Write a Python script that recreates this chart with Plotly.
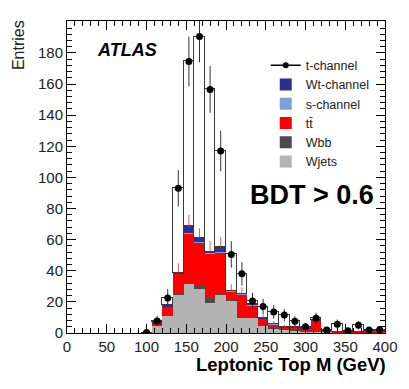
import numpy as np
import plotly.graph_objects as go

# binning of the histogram (30 bins from 0 to 400 GeV), filled bins start at bin 7
n_bins = 30
x_lo, x_hi = 0, 400
first_bin = 7

# stacked total (t-channel on top of all backgrounds), bins 7..29
total = [0.3, 7.7, 22.5, 93, 174.5, 190.5, 156.5, 117, 50.5, 38, 20.5, 17,
         13.5, 11.5, 7.5, 4, 9.4, 2, 5.6, 1.5, 5, 2, 2.2]
total_err = [0.8, 3.3, 5.7, 11.7, 16, 16.5, 15, 13, 8.5, 7.5, 5.4, 5,
             4.4, 4, 3.3, 2.4, 3.7, 1.7, 3, 1.5, 2.7, 1.7, 1.8]

# backgrounds, bins 7..29
wjets = [0, 4.5, 11, 24.5, 31.5, 28.5, 19.5, 25, 21, 10, 10, 4.5,
         3, 2, 1.6, 1.2, 1, 0.4, 0.4, 0.5, 0.4, 0.4, 0.4]
wbb = [0, 0.2, 0.3, 1.3, 0.5, 2.5, 3.3, 0.5, 0.3, 0.4, 0.3, 0.2,
       0.1, 0.1, 0.1, 0.1, 0.1, 0, 0, 0, 0, 0, 0]
ttbar = [0, 1.5, 5.5, 12.5, 32, 27, 28.5, 26, 5.5, 14.5, 7.5, 4.5,
         2.6, 1.4, 1.8, 1.6, 7, 1.4, 0.3, 0.5, 0.5, 1.2, 0.6]
schan = [0, 0.2, 0.3, 0.1, 0.5, 0.5, 0.3, 0.5, 0.2, 0.2, 0.2, 0.1,
         0.1, 0.05, 0.05, 0.05, 0.05, 0, 0, 0, 0, 0, 0]
wtchan = [0, 0.4, 0.9, 0.3, 4, 2.8, 0.5, 3.3, 0.3, 0.2, 0.6, 0.2,
          0.1, 0.1, 0.1, 0.1, 0.2, 0.1, 0, 0.1, 0, 0.1, 0]
bkg_err = [0, 1, 2.5, 6, 7.5, 6, 7, 6.5, 4, 4, 3.3, 2.3,
           1.8, 1.5, 1.5, 1.3, 2.6, 1.2, 0.6, 0.8, 0.7, 1.1, 0.7]

edges = np.linspace(x_lo, x_hi, n_bins + 1)
width = edges[1] - edges[0]
x = ((edges[:-1] + edges[1:]) / 2)[first_bin:]

bkg_sum = np.array(wjets) + np.array(wbb) + np.array(ttbar) + np.array(schan) + np.array(wtchan)
tchan = np.clip(np.array(total) - bkg_sum, 0, None)

FONT = "Liberation Sans, Arial, sans-serif"

fig = go.Figure()

stack = [
    ("Wjets", wjets, "#b3b3b3", 6),
    ("Wbb", wbb, "#4b4b4b", 5),
    ("tt\u0304", ttbar, "#ff0000", 4),
    ("s-channel", schan, "#7f9fdc", 3),
    ("Wt-channel", wtchan, "#2e2e8c", 2),
]
for name, vals, col, rank in stack:
    fig.add_trace(go.Bar(
        x=x, y=vals, width=width, name=name, legendrank=rank,
        marker=dict(color=col, line=dict(width=0)),
    ))

# t-channel on top, white with dark outline (ROOT style)
fig.add_trace(go.Bar(
    x=x, y=tchan, width=width, showlegend=False,
    marker=dict(color="white", line=dict(color="#3a3a3a", width=1)),
))

# background uncertainty ticks
fig.add_trace(go.Scatter(
    x=x, y=bkg_sum, mode="markers", showlegend=False, hoverinfo="skip",
    marker=dict(size=1, color="rgba(0,0,0,0)"),
    error_y=dict(type="data", symmetric=False, array=bkg_err,
                 arrayminus=[0] * len(bkg_err),
                 color="rgba(225,70,70,0.9)", thickness=1, width=0),
))

# points with error bars
fig.add_trace(go.Scatter(
    x=x, y=total, mode="markers", showlegend=False,
    marker=dict(color="black", size=7),
    error_y=dict(type="data", array=total_err, color="#333333",
                 thickness=1, width=0),
))

# legend entry for t-channel
fig.add_trace(go.Scatter(
    x=[None], y=[None], mode="lines+markers", name="t-channel", legendrank=1,
    line=dict(color="black", width=1.5), marker=dict(color="black", size=6),
))

axis_common = dict(
    showline=True, linecolor="black", linewidth=1, mirror="allticks",
    ticks="inside", ticklen=9, tickcolor="black", tickwidth=1,
    showgrid=False, zeroline=False,
    tickfont=dict(family=FONT, size=15, color="#222222"),
)

fig.update_xaxes(
    range=[x_lo, x_hi], tickvals=list(range(0, 401, 50)),
    minor=dict(ticks="inside", ticklen=5, dtick=10, tick0=0, tickcolor="black"),
    **axis_common,
)
fig.update_yaxes(
    range=[0, 200.5], tickvals=list(range(0, 181, 20)),
    minor=dict(ticks="inside", ticklen=5, dtick=4, tick0=0, tickcolor="black"),
    **axis_common,
)

# page body has an 8px margin, so the figure is made 8px smaller
fig.update_layout(
    width=401, height=381,
    margin=dict(l=59, r=24, t=13, b=56),
    barmode="stack", bargap=0,
    plot_bgcolor="white", paper_bgcolor="white",
    legend=dict(
        x=0.625, y=0.905, xanchor="left", yanchor="top",
        bgcolor="rgba(0,0,0,0)", traceorder="normal",
        font=dict(family=FONT, size=12.5, color="#222222"),
        itemwidth=30, tracegroupgap=0,
    ),
    annotations=[
        dict(text="<b><i>ATLAS</i></b>", x=0.088, y=0.907, xref="paper", yref="paper",
             xanchor="left", yanchor="middle", showarrow=False,
             font=dict(family=FONT, size=18, color="black")),
        dict(text="<b>BDT > 0.6</b>", x=0.569, y=0.442, xref="paper", yref="paper",
             xanchor="left", yanchor="middle", showarrow=False,
             font=dict(family=FONT, size=27, color="black")),
        dict(text="<b>Leptonic Top M (GeV)</b>", x=1.009, y=-0.1, xref="paper", yref="paper",
             xanchor="right", yanchor="middle", showarrow=False,
             font=dict(family=FONT, size=18.5, color="black")),
        dict(text="Entries", x=-0.154, y=0.923, xref="paper", yref="paper",
             xanchor="center", yanchor="middle", textangle=-90, showarrow=False,
             font=dict(family=FONT, size=16, color="#222222")),
    ],
)

fig.write_html("out.html")
